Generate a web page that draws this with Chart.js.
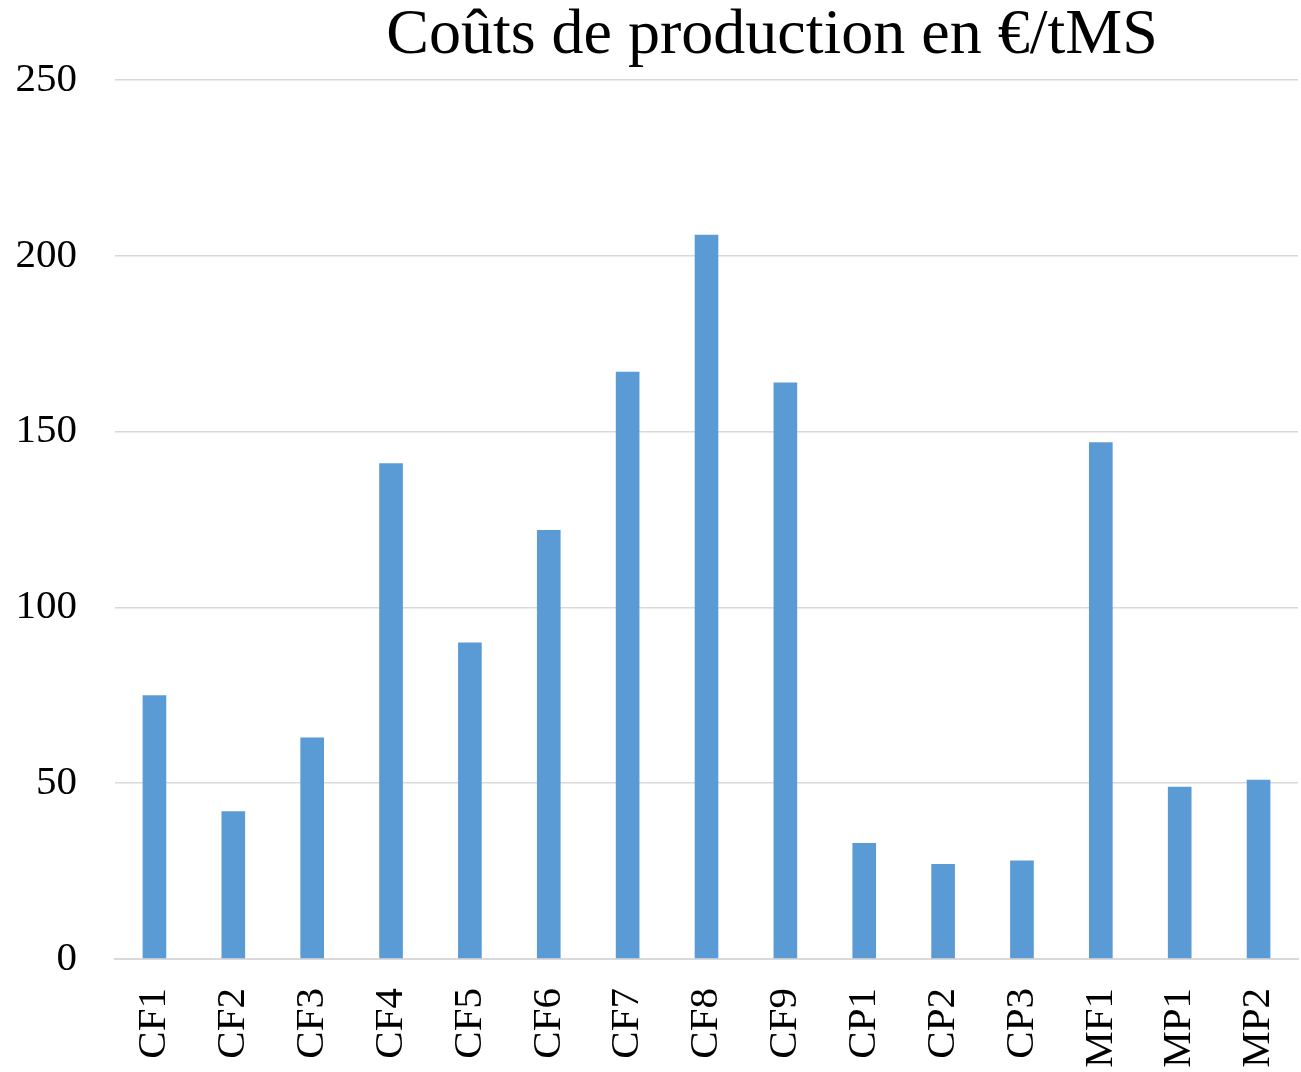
<!DOCTYPE html>
<html>
<head>
<meta charset="utf-8">
<script src="https://cdn.jsdelivr.net/npm/chart.js@4"></script>
<style>
  html, body { margin: 0; padding: 0; background: #fff; }
  #wrap { width: 1301px; height: 1072px; }
</style>
</head>
<body>
<div id="wrap"><canvas id="cost-chart"></canvas></div>
<script>
var categories = ['CF1', 'CF2', 'CF3', 'CF4', 'CF5', 'CF6', 'CF7', 'CF8', 'CF9',
                  'CP1', 'CP2', 'CP3', 'MF1', 'MP1', 'MP2'];
var costs = [75, 42, 63, 141, 90, 122, 167, 206, 164, 33, 27, 28, 147, 49, 51];
var yTicks = [0, 50, 100, 150, 200, 250];

var chartTitle = 'Coûts de production en €/tMS';
var serif = '"Liberation Serif", "Times New Roman", serif';

// title sits off-centre, so draw it by hand
var titlePlugin = {
  id: 'offsetTitle',
  afterDraw: function (chart) {
    var c = chart.ctx;
    c.save();
    c.font = '64px ' + serif;
    c.fillStyle = '#000';
    c.textAlign = 'center';
    c.textBaseline = 'alphabetic';
    c.fillText(chartTitle, 772, 53);
    c.restore();
  }
};

var ctx = document.getElementById('cost-chart').getContext('2d');
var chart = new Chart(ctx, {
  type: 'bar',
  data: {
    labels: categories,
    datasets: [{
      label: 'Coûts',
      data: costs,
      backgroundColor: '#5b9bd5',
      borderWidth: 0,
      barPercentage: 0.3,
      categoryPercentage: 1
    }]
  },
  options: {
    responsive: true,
    maintainAspectRatio: false,
    animation: false,
    layout: { padding: { top: 80, right: 3, left: 0, bottom: 0 } },
    plugins: {
      legend: { display: false },
      title: { display: false },
      tooltip: { enabled: false }
    },
    scales: {
      x: {
        grid: { display: false, drawTicks: false },
        border: { display: true, color: '#d9d9d9', width: 2 },
        ticks: {
          color: '#000',
          font: { family: serif, size: 41 },
          minRotation: 90,
          maxRotation: 90,
          padding: 29,
          autoSkip: false
        },
        afterFit: function (scale) {
          scale.height = 113;
          scale.paddingLeft = 0;
          scale.paddingRight = 0;
        }
      },
      y: {
        min: 0,
        max: 250,
        afterBuildTicks: function (scale) {
          scale.ticks = yTicks.map(function (v) { return { value: v }; });
        },
        grid: { color: '#d9d9d9', lineWidth: 1.5, drawTicks: false },
        border: { display: false },
        ticks: {
          color: '#000',
          font: { family: serif, size: 41 },
          padding: 38
        },
        afterFit: function (scale) { scale.width = 115; }
      }
    }
  },
  plugins: [titlePlugin]
});
</script>
</body>
</html>
